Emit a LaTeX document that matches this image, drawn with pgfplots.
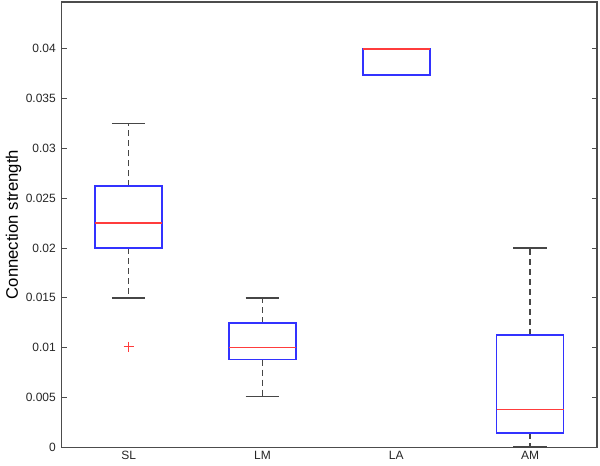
\documentclass[border=0pt]{standalone}
\usepackage{fontspec}
\setmainfont{Liberation Sans}
\usepackage{pgfplots}
\pgfplotsset{compat=1.18}
\usepgfplotslibrary{statistics}
\definecolor{boxblue}{RGB}{50,50,255}
\definecolor{medred}{RGB}{255,60,60}
\definecolor{whisk}{RGB}{70,70,70}
\pgfplotsset{
  mlbox/.style={
    solid,
    boxplot/draw direction=y,
    boxplot/box extend=0.5,
    boxplot/whisker extend=0.25,
    boxplot/every box/.style={draw=boxblue,line width=1pt},
    boxplot/every median/.style={draw=medred,line width=1pt},
    boxplot/every whisker/.style={draw=whisk,line width=1pt},
    boxplot/draw/lower whisker/.code={%
      \draw[/pgfplots/boxplot/every whisker/.try,dash pattern=on 3.6pt off 2.4pt]
        (boxplot cs:\pgfplotsboxplotvalue{lower quartile}) -- (boxplot cs:\pgfplotsboxplotvalue{lower whisker});
      \draw[/pgfplots/boxplot/every whisker/.try]
        (boxplot whisker cs:\pgfplotsboxplotvalue{lower whisker},0) -- (boxplot whisker cs:\pgfplotsboxplotvalue{lower whisker},1);
    },
    boxplot/draw/upper whisker/.code={%
      \draw[/pgfplots/boxplot/every whisker/.try,dash pattern=on 3.6pt off 2.4pt]
        (boxplot cs:\pgfplotsboxplotvalue{upper quartile}) -- (boxplot cs:\pgfplotsboxplotvalue{upper whisker});
      \draw[/pgfplots/boxplot/every whisker/.try]
        (boxplot whisker cs:\pgfplotsboxplotvalue{upper whisker},0) -- (boxplot whisker cs:\pgfplotsboxplotvalue{upper whisker},1);
    },
    mark=+, mark size=3pt, mark options={draw=medred,solid,line width=0.8pt},
  },
}
\begin{document}
\begin{tikzpicture}
\begin{axis}[scale only axis,width=321pt,height=267pt,
  xmin=0.5,xmax=4.5,ymin=0,ymax=0.0447,
  xtick={1,2,3,4},xticklabels={SL,LM,LA,AM},xtick style={draw=none},
  ytick={0,0.005,0.01,0.015,0.02,0.025,0.03,0.035,0.04},
  yticklabels={0,0.005,0.01,0.015,0.02,0.025,0.03,0.035,0.04},
  scaled y ticks=false,
  ytick pos=both,tick align=inside,major tick length=3pt,
  axis line style={black!70,line width=0.8pt},tick style={black!70,line width=0.6pt},
  tick label style={font=\fontsize{7.2}{8}\selectfont,text=black!85},
  xticklabel style={yshift=1pt},
  ylabel={Connection strength},
  ylabel style={font=\fontsize{10.8}{12}\selectfont},
  every axis y label/.style={at={(axis description cs:-0.09,0.5)},rotate=90,anchor=center},
  clip=false]
\addplot[mlbox,boxplot prepared={draw position=1,lower whisker=0.0150,lower quartile=0.0200,median=0.0225,upper quartile=0.0262,upper whisker=0.0325}] coordinates {(1,0.0101)};
\addplot[mlbox,boxplot prepared={draw position=2,lower whisker=0.0051,lower quartile=0.0088,median=0.0100,upper quartile=0.0125,upper whisker=0.0150}] coordinates {};
\addplot[mlbox,boxplot/every whisker/.style={draw=none},boxplot prepared={draw position=3,lower whisker=0.0374,lower quartile=0.0374,median=0.0400,upper quartile=0.0400,upper whisker=0.0400}] coordinates {};
\addplot[mlbox,boxplot prepared={draw position=4,lower whisker=0.0,lower quartile=0.0014,median=0.0038,upper quartile=0.0113,upper whisker=0.0200}] coordinates {};
\end{axis}
\path ([xshift=-37pt,yshift=-10.8pt]current axis.south west) rectangle ([xshift=1.8pt,yshift=1.2pt]current axis.north east);
\end{tikzpicture}
\end{document}
